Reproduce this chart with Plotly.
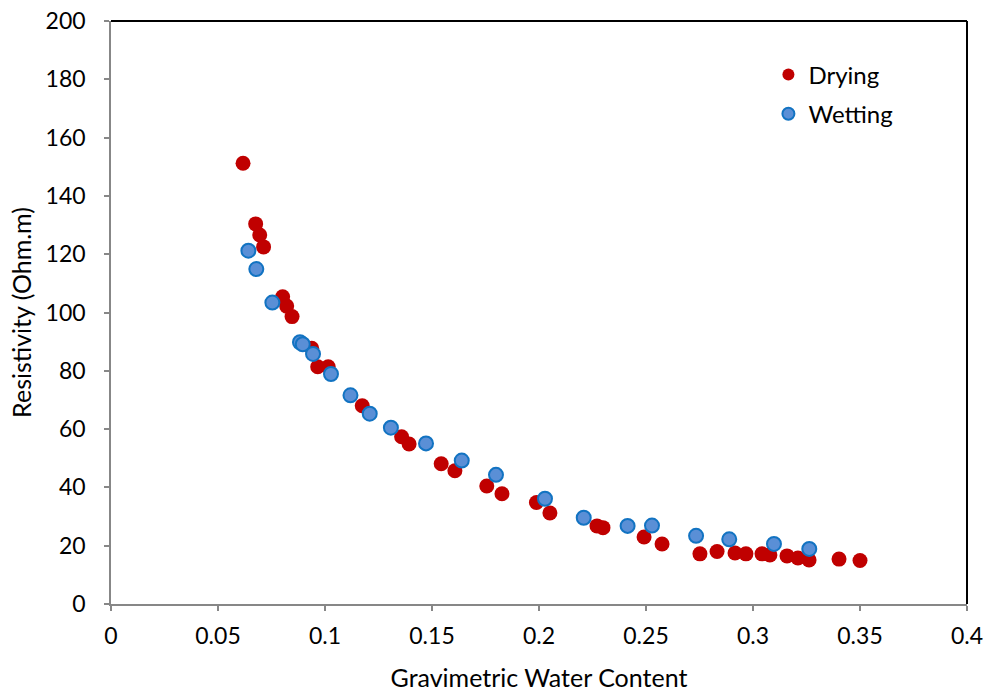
import plotly.graph_objects as go

# Drying series
drying_x = [0.0617, 0.0676, 0.0695, 0.0713, 0.0802, 0.0821, 0.0846, 0.0938, 0.0966, 0.1015,
            0.1174, 0.1358, 0.1393, 0.1543, 0.1607, 0.1756, 0.1827, 0.1988, 0.2051, 0.2271,
            0.2299, 0.2491, 0.2575, 0.2752, 0.2832, 0.2916, 0.2967, 0.3042, 0.3079, 0.3159,
            0.3210, 0.3262, 0.3402, 0.3500]
drying_y = [151.2, 130.4, 126.6, 122.5, 105.4, 102.2, 98.6, 87.7, 81.4, 81.4,
            68.0, 57.4, 54.9, 48.1, 45.7, 40.5, 37.8, 34.8, 31.2, 26.8,
            26.2, 23.0, 20.6, 17.2, 18.0, 17.5, 17.2, 17.2, 16.8, 16.5,
            15.8, 15.1, 15.4, 14.9]

# Wetting series
wetting_x = [0.0642, 0.0679, 0.0754, 0.0883, 0.0896, 0.0944, 0.1028, 0.1119, 0.1209, 0.1308,
             0.1472, 0.1639, 0.1799, 0.2028, 0.2209, 0.2414, 0.2528, 0.2734, 0.2889, 0.3098,
             0.3263]
wetting_y = [121.2, 114.9, 103.4, 89.8, 89.1, 85.8, 78.9, 71.6, 65.3, 60.5,
             55.1, 49.2, 44.3, 36.1, 29.6, 26.8, 26.9, 23.4, 22.2, 20.6,
             18.9]

x_ticks = [0, 0.05, 0.1, 0.15, 0.2, 0.25, 0.3, 0.35, 0.4]
x_ticklabels = ["0", "0.05", "0.1", "0.15", "0.2", "0.25", "0.3", "0.35", "0.4"]
y_ticks = [0, 20, 40, 60, 80, 100, 120, 140, 160, 180, 200]

FONT = "Lato, Carlito, Calibri, sans-serif"

fig = go.Figure()
fig.add_trace(go.Scatter(
    x=drying_x, y=drying_y, mode="markers", name="Drying", legendgroup="d",
    marker=dict(size=15, color="#C00000", line=dict(width=0)),
))
fig.add_trace(go.Scatter(
    x=wetting_x, y=wetting_y, mode="markers", name="Wetting", legendgroup="w",
    marker=dict(size=14, color="#5A8FD6", line=dict(width=2, color="#1273C2")),
))

axis_common = dict(
    showline=True, linecolor="#878787", linewidth=1.5,
    ticks="outside", ticklen=5, tickcolor="#878787", tickwidth=1.5,
    showgrid=False, zeroline=False, automargin=False,
    tickfont=dict(family=FONT, size=23, color="#000000"),
    ticklabeloverflow="allow",
    mirror=False,
)

fig.update_layout(
    width=989, height=692,
    margin=dict(l=111, r=22, t=21, b=88),
    paper_bgcolor="white", plot_bgcolor="white",
    font=dict(family=FONT, size=23, color="#000000"),
    xaxis=dict(range=[0, 0.4], tickvals=x_ticks, ticktext=x_ticklabels,
               ticklabelstandoff=6,
               title=dict(text="Gravimetric Water Content", font=dict(family=FONT, size=25), standoff=22),
               **axis_common),
    yaxis=dict(range=[0, 200], tickvals=y_ticks,
               ticklabelstandoff=14,
               title=dict(text="Resistivity (Ohm.m)", font=dict(family=FONT, size=25), standoff=7),
               **axis_common),
    legend=dict(x=0.768, y=0.946, xanchor="left", yanchor="top",
                bgcolor="rgba(0,0,0,0)", font=dict(family=FONT, size=24),
                itemsizing="constant", tracegroupgap=5),
    shapes=[dict(type="line", xref="paper", yref="paper", x0=0, y0=1, x1=1, y1=1,
                 line=dict(color="#000000", width=2), layer="above"),
            dict(type="line", xref="paper", yref="paper", x0=1, y0=0, x1=1, y1=1,
                 line=dict(color="#000000", width=2), layer="above")],
)

fig.write_html("out.html",
               config={"displayModeBar": False},
               post_script="document.body.style.margin='0';document.body.style.overflow='hidden';")
